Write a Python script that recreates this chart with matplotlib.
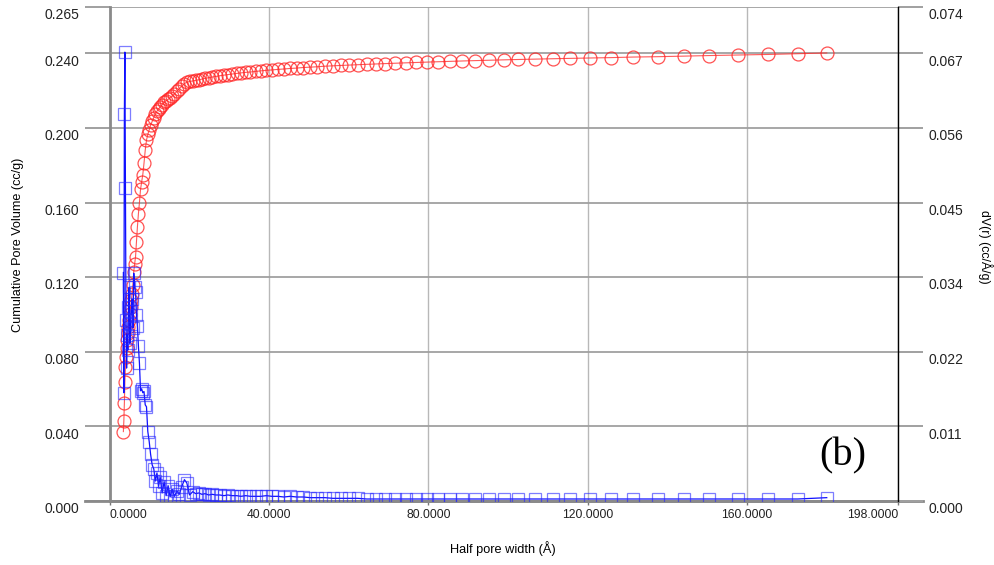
# Pore size distribution: cumulative pore volume and dV(r) vs half pore width.

import matplotlib
matplotlib.use("Agg")
import matplotlib.pyplot as plt

half_width = [
    3.36, 3.48, 3.61, 3.74, 3.88, 4.02, 4.17, 4.32, 4.48, 4.64,
    4.81, 4.99, 5.17, 5.36, 5.56, 5.76, 5.97, 6.19, 6.42, 6.65,
    6.89, 7.14, 7.40, 7.67, 7.95, 8.24, 8.54, 8.85, 9.17, 9.50,
    9.85, 10.2, 10.6, 11.0, 11.4, 11.8, 12.2, 12.6, 13.1, 13.6,
    14.1, 14.6, 15.1, 15.6, 16.2, 16.8, 17.4, 18.0, 18.7, 19.3,
    20.0, 20.8, 21.5, 22.3, 23.1, 23.9, 24.8, 25.7, 26.6, 27.6,
    28.6, 29.6, 30.7, 31.8, 32.9, 34.1, 35.3, 36.6, 37.9, 39.3,
    40.7, 42.2, 43.7, 45.3, 46.9, 48.6, 50.3, 52.1, 54.0, 56.0,
    58.0, 60.1, 62.2, 64.5, 66.8, 69.2, 71.7, 74.3, 77.0, 79.7,
    82.5, 85.5, 88.5, 91.8, 95.3, 98.9, 102.6, 106.9, 111.2, 115.7,
    120.5, 125.8, 131.3, 137.6, 144.2, 150.4, 157.7, 165.3, 172.8, 180.1,
]

cum_volume = [
    0.0372, 0.0430, 0.0524, 0.0640, 0.0720, 0.0774, 0.0820, 0.0864, 0.0900, 0.0935,
    0.0970, 0.1005, 0.1040, 0.1075, 0.1110, 0.1160, 0.1230, 0.1270, 0.1310, 0.1390,
    0.1470, 0.1540, 0.1600, 0.1670, 0.1710, 0.1750, 0.1810, 0.1880, 0.1935, 0.1965,
    0.1990, 0.2015, 0.2035, 0.2055, 0.2075, 0.2090, 0.2102, 0.2112, 0.2125, 0.2138,
    0.2146, 0.2153, 0.2162, 0.2170, 0.2182, 0.2196, 0.2210, 0.2223, 0.2238, 0.2245,
    0.2249, 0.2252, 0.2255, 0.2258, 0.2262, 0.2266, 0.2269, 0.2273, 0.2276, 0.2280,
    0.2283, 0.2286, 0.2289, 0.2292, 0.2295, 0.2298, 0.2300, 0.2303, 0.2306, 0.2309,
    0.2311, 0.2314, 0.2316, 0.2319, 0.2321, 0.2324, 0.2326, 0.2328, 0.2331, 0.2333,
    0.2335, 0.2337, 0.2339, 0.2341, 0.2343, 0.2345, 0.2347, 0.2349, 0.2351, 0.2353,
    0.2355, 0.2357, 0.2359, 0.2361, 0.2363, 0.2365, 0.2367, 0.2369, 0.2371, 0.2373,
    0.2375, 0.2377, 0.2380, 0.2382, 0.2385, 0.2388, 0.2391, 0.2394, 0.2398, 0.2402,
]

dv_r = [
    0.0342, 0.0162, 0.0580, 0.0672, 0.0468, 0.0271, 0.0199, 0.0249, 0.0226, 0.0290,
    0.0320, 0.0236, 0.0265, 0.0284, 0.0302, 0.0259, 0.0341, 0.0321, 0.0313, 0.0279,
    0.0262, 0.0232, 0.0206, 0.0165, 0.0168, 0.0162, 0.0164, 0.0144, 0.0141, 0.0104,
    0.0089, 0.0070, 0.0054, 0.0048, 0.0030, 0.0042, 0.0022, 0.0036, 0.0012, 0.0029,
    0.0008, 0.0023, 0.0006, 0.0018, 0.0007, 0.0015, 0.0010, 0.0021, 0.0032, 0.0027,
    0.0009, 0.0014, 0.0011, 0.0012, 0.0010, 0.0011, 0.0009, 0.0010, 0.0009, 0.0009,
    0.0008, 0.0009, 0.0008, 0.0008, 0.0007, 0.0008, 0.0007, 0.0007, 0.0007, 0.0008,
    0.0007, 0.0007, 0.0006, 0.0007, 0.0006, 0.0006, 0.0005, 0.0005, 0.0005, 0.0004,
    0.0004, 0.0004, 0.0004, 0.0003, 0.0003, 0.0003, 0.0003, 0.0003, 0.0003, 0.0003,
    0.0003, 0.0003, 0.0003, 0.0003, 0.0003, 0.0003, 0.0003, 0.0003, 0.0003, 0.0003,
    0.0003, 0.0003, 0.0003, 0.0003, 0.0003, 0.0003, 0.0003, 0.0003, 0.0003, 0.0005,
]

x_ticks = [0, 40, 80, 120, 160, 198]
left_ticks = [0.000, 0.040, 0.080, 0.120, 0.160, 0.200, 0.240, 0.265]
left_max = 0.265
right_max = 0.074

plt.rcParams['font.family'] = ['Liberation Sans', 'DejaVu Sans']

fig = plt.figure(figsize=(9.95, 5.65), dpi=100)
ax = fig.add_axes([110 / 995, 64 / 565, 788 / 995, 494.3 / 565])
ax2 = ax.twinx()

# cumulative volume, red open circles
ax.plot(half_width, cum_volume, color='#ff3030', lw=0.8, alpha=0.8,
        marker='o', ms=9.3, mfc='none', mec=(1, 0.15, 0.15, 0.75), mew=0.9, zorder=3)
# differential volume, blue open squares
ax2.plot(half_width, dv_r, color='#1010ff', lw=0.9,
         marker='s', ms=9.3, mfc='none', mec=(0.15, 0.15, 1, 0.6), mew=0.9, zorder=3)

ax.set_xlim(0, 198)
ax.set_ylim(0, left_max)
ax2.set_ylim(0, right_max)

grey = '#a0a0a0'
ax.set_yticks(left_ticks)
ax.set_yticklabels([])
ax.tick_params(axis='y', direction='out', length=18, width=1.4, color=grey)
ax.grid(axis='y', color=grey, lw=1.3)

ax.set_xticks(x_ticks)
ax.set_xticklabels([])
ax.tick_params(axis='x', direction='out', length=3, width=1, color='#777777')
ax.grid(axis='x', color='#b8b8b8', lw=1.0)
ax.set_axisbelow(True)

right_ticks = [v * right_max / left_max for v in left_ticks]
ax2.set_yticks(right_ticks)
ax2.set_yticklabels([])
ax2.tick_params(axis='y', direction='out', length=18, width=1.4, color=grey)

for s in ['top']:
    ax.spines[s].set_visible(False)
    ax2.spines[s].set_visible(False)
ax.spines['right'].set_visible(False)
ax2.spines['left'].set_visible(False)
ax2.spines['bottom'].set_visible(False)
ax.spines['left'].set_color('#8a8a8a')
ax.spines['left'].set_linewidth(2)
ax.spines['bottom'].set_color('#8a8a8a')
ax.spines['bottom'].set_linewidth(2)
ax2.spines['right'].set_color('black')
ax2.spines['right'].set_linewidth(1)

# bottom axis line runs out to the tick ends on both sides
ax.plot([-25 / 3.98, 198 + 25 / 3.98], [0, 0], color='#8a8a8a', lw=2,
        clip_on=False, zorder=1)

# tick labels sit just below their tick lines
for v in left_ticks:
    ax.annotate(f'{v:.3f}', xy=(0, v), xycoords=('axes fraction', 'data'),
                xytext=(-22, -6), textcoords='offset points',
                ha='right', va='center', fontsize=10, color='#222222')
for v, r in zip(left_ticks, right_ticks):
    ax2.annotate(f'{r:.3f}', xy=(1, r), xycoords=('axes fraction', 'data'),
                 xytext=(22, -6), textcoords='offset points',
                 ha='left', va='center', fontsize=10, color='#222222')
for i, v in enumerate(x_ticks):
    ha = 'left' if i == 0 else ('right' if i == len(x_ticks) - 1 else 'center')
    ax.annotate(f'{v:.4f}', xy=(v, 0), xycoords=('data', 'axes fraction'),
                xytext=(0, -10), textcoords='offset points',
                ha=ha, va='center', fontsize=8.7, color='#222222')

fig.text(18 / 995, 1 - 245 / 565, 'Cumulative Pore Volume (cc/g)', rotation=90,
         ha='center', va='center', fontsize=9.1)
fig.text(985 / 995, 1 - 247 / 565, 'dV(r) (cc/Å/g)', rotation=270,
         ha='center', va='center', fontsize=8.9)
fig.text(503 / 995, 1 - 549 / 565, 'Half pore width (Å)',
         ha='center', va='center', fontsize=9.2)
fig.text(843 / 995, 1 - 456 / 565, '(b)', family='Liberation Serif',
         ha='center', va='center', fontsize=29)

fig.savefig('out.png', dpi=100)
